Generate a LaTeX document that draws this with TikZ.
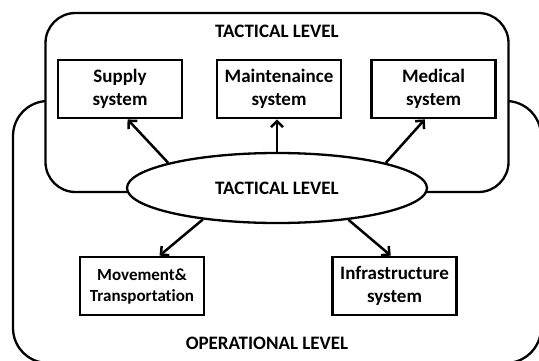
\documentclass[tikz,border=0pt]{standalone}
\usepackage{fontspec}
\setmainfont[Ligatures=NoCommon]{Carlito}
\usepackage{tikz}
\usetikzlibrary{shapes,arrows.meta}
\tikzstyle{block} = [rectangle, draw, line width=2.8pt, fill=white, text centered, align=center, minimum width=124pt, minimum height=58pt, inner sep=0pt, font=\bfseries\fontsize{19}{23}\selectfont]
\tikzstyle{level} = [rectangle, draw, line width=2.3pt, inner sep=0pt]
\tikzstyle{line} = [draw, line width=2.5pt, -{Straight Barb[length=6pt,width=12pt,line width=2.5pt]}]

\begin{document}
\begin{tikzpicture}[x=1pt,y=-1pt]
\useasboundingbox (0,0) rectangle (539,360);
\node [level, rounded corners=35pt, minimum width=528pt, minimum height=262pt] (operational) at (277,232) {};
\node [level, rounded corners=30pt, fill=white, minimum width=463pt, minimum height=179pt] (tactical) at (277,102.5) {};
\node [ellipse, draw, line width=2.3pt, fill=white, minimum width=300pt, minimum height=70pt, inner sep=0pt, font=\bfseries\fontsize{19}{23}\selectfont] (hub) at (277,188) {TACTICAL LEVEL};
\node [font=\bfseries\fontsize{19}{23}\selectfont] (tacticaltitle) at (277,31) {TACTICAL LEVEL};
\node [font=\bfseries\fontsize{19}{23}\selectfont] (operationaltitle) at (267,343) {OPERATIONAL LEVEL};
\node [block] (supply) at (120,89) {Supply\\system};
\node [block] (maint) at (279,89) {Maintenaince\\system};
\node [block] (medical) at (433.5,89) {Medical\\system};
\node [block, font=\bfseries\fontsize{17}{21}\selectfont] (movement) at (142,286) {Movement\&\\Transportation};
\node [block] (infra) at (394.5,286) {Infrastructure\\system};
\path [line] (hub.167) -- (supply.-76);
\path [line] (hub.north) -- (hub.north |- maint.south);
\path [line] (hub.13) -- (medical.254);
\path [line] (hub.203) -- (movement.60);
\path [line] (hub.-24) -- (infra.97);
\end{tikzpicture}
\end{document}
